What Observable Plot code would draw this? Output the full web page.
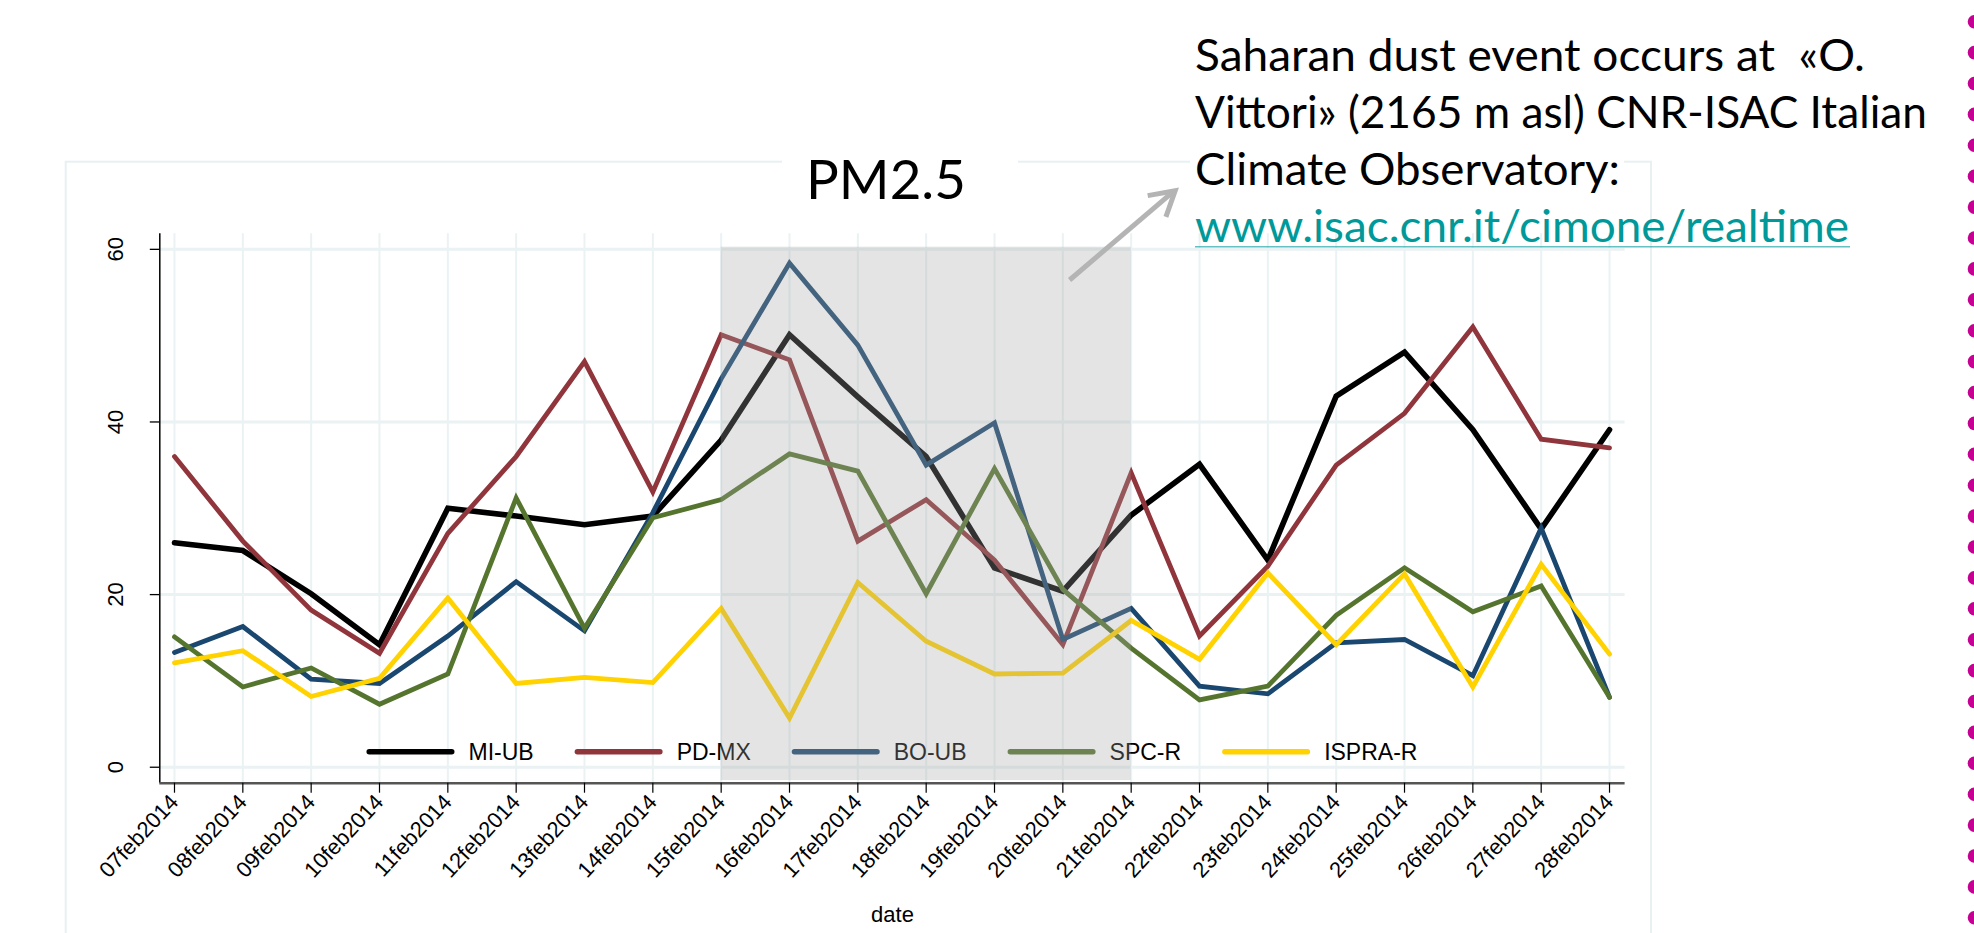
<!DOCTYPE html>
<html>
<head>
<meta charset="utf-8">
<script src="https://cdn.jsdelivr.net/npm/d3@7"></script>
<script src="https://cdn.jsdelivr.net/npm/@observablehq/plot@0.6"></script>
<style>
html, body { margin: 0; padding: 0; background: #fff; }
#wrap { position: relative; width: 1974px; height: 933px; overflow: hidden; background: #fff; }
#wrap > svg { position: absolute; left: 0; top: 0; }
</style>
</head>
<body>
<div id="wrap"></div>
<script>
// ---------------- data ----------------
const dates = ["07feb2014","08feb2014","09feb2014","10feb2014","11feb2014","12feb2014","13feb2014",
  "14feb2014","15feb2014","16feb2014","17feb2014","18feb2014","19feb2014","20feb2014","21feb2014",
  "22feb2014","23feb2014","24feb2014","25feb2014","26feb2014","27feb2014","28feb2014"];
const seriesNames = ["MI-UB", "PD-MX", "BO-UB", "SPC-R", "ISPRA-R"];
const seriesColors = ["#000000", "#90353b", "#1a476f", "#55752f", "#ffd200"];
const miUB   = [26.0, 25.1, 20.1, 14.2, 30.0, 29.1, 28.1, 29.1, 37.9, 50.1, 42.9, 36.0, 23.1, 20.4, 29.2, 35.1, 24.0, 43.0, 48.1, 39.1, 27.6, 39.1];
const pdMX   = [36.0, 26.2, 18.2, 13.2, 27.1, 36.0, 47.0, 31.9, 50.1, 47.2, 26.2, 31.0, 24.0, 14.2, 34.1, 15.2, 23.3, 35.0, 41.0, 51.0, 38.0, 37.0];
const boUB   = [13.3, 16.3, 10.2, 9.7, 15.2, 21.5, 15.8, 29.5, 45.0, 58.4, 48.9, 35.0, 39.9, 14.8, 18.4, 9.4, 8.5, 14.4, 14.8, 10.6, 27.7, 8.1];
const spcR   = [15.1, 9.3, 11.5, 7.3, 10.8, 31.2, 16.1, 28.9, 31.0, 36.3, 34.3, 20.1, 34.6, 20.6, 13.8, 7.8, 9.4, 17.6, 23.1, 18.0, 21.0, 8.1];
const ispraR = [12.1, 13.5, 8.2, 10.3, 19.6, 9.7, 10.4, 9.8, 18.4, 5.7, 21.4, 14.6, 10.8, 10.9, 17.0, 12.5, 22.5, 14.2, 22.4, 9.3, 23.5, 13.1];
const seriesValues = [miUB, pdMX, boUB, spcR, ispraR];
const yTicks = [0, 20, 40, 60];
const shadeFrom = "15feb2014", shadeTo = "21feb2014";
const shadeRange = [-1.54, 60.25];
const titleText = "PM2.5";
const xLabel = "date";
const noteLines = ["Saharan dust event occurs at  «O.", "Vittori» (2165 m asl) CNR-ISAC Italian", "Climate Observatory:"];
const noteLink = "www.isac.cnr.it/cimone/realtime";

// ---------------- layout ----------------
const W = 1974, H = 933;
const mL = 159.3, mR = 349.4, mT = 233.3, mB = 150.3;
const xDomain = [-0.215, 21.228];
const yDomain = [-1.85, 61.8];
const FONT = "'Liberation Sans', Arial, sans-serif";
const NOTEFONT = "Lato, 'Open Sans', sans-serif";

const rows = seriesNames.flatMap((s, k) => seriesValues[k].map((v, j) => ({series: s, x: j, date: dates[j], value: v})));
const shade = [{x1: dates.indexOf(shadeFrom), x2: dates.indexOf(shadeTo), y1: shadeRange[0], y2: shadeRange[1]}];

function legendMark(index, scales, values, dims) {
  const ctx = document.createElement("canvas").getContext("2d");
  ctx.font = "23px " + FONT;
  const keyLen = 88, keyGap = 14, colGap = 41;
  const widths = seriesNames.map(s => ctx.measureText(s).width);
  const total = d3.sum(widths) + seriesNames.length * (keyLen + keyGap) + (seriesNames.length - 1) * colGap;
  const cx = (dims.marginLeft + dims.width - dims.marginRight) / 2;
  const cy = dims.height - dims.marginBottom - 31;
  const g = d3.create("svg:g").attr("font-family", FONT).attr("font-size", 23).attr("text-anchor", "start");
  let x = cx - total / 2;
  seriesNames.forEach((s, i) => {
    g.append("line").attr("x1", x + 2.7).attr("x2", x + keyLen - 2.7).attr("y1", cy).attr("y2", cy)
      .attr("stroke", scales.color(s)).attr("stroke-width", 5.4).attr("stroke-linecap", "round");
    g.append("text").attr("x", x + keyLen + keyGap).attr("y", cy + 8.3).attr("fill", "#000")
      .attr("text-anchor", "start").style("text-anchor", "start").text(s);
    x += keyLen + keyGap + widths[i] + colGap;
  });
  return g.node();
}

const wrap = document.getElementById("wrap");

// background layer: panel border + white boxes
const bg = d3.create("svg").attr("width", W).attr("height", H);
bg.append("rect").attr("x", 65.7).attr("y", 161.7).attr("width", 1651 - 65.7).attr("height", 900)
  .attr("fill", "none").attr("stroke", "#e8f0f2").attr("stroke-width", 2);
bg.append("rect").attr("x", 782).attr("y", 150).attr("width", 236).attr("height", 30).attr("fill", "#fff");
bg.append("rect").attr("x", 1190).attr("y", 150).attr("width", 434).attr("height", 94).attr("fill", "#fff");
wrap.appendChild(bg.node());

const chart = Plot.plot({
  width: W, height: H,
  marginLeft: mL, marginRight: mR, marginTop: mT, marginBottom: mB,
  style: {background: "transparent", fontFamily: FONT, fontSize: "22px", color: "#000", overflow: "visible"},
  x: {type: "linear", domain: xDomain},
  y: {domain: yDomain},
  color: {domain: seriesNames, range: seriesColors},
  marks: [
    Plot.gridY(yTicks, {stroke: "#eaf2f3", strokeOpacity: 1, strokeWidth: 3}),
    Plot.gridX(d3.range(dates.length), {stroke: "#eaf2f3", strokeOpacity: 1, strokeWidth: 2}),
    Plot.ruleX([xDomain[0]], {stroke: "#000", strokeWidth: 1.5}),
    Plot.ruleY([yDomain[0]], {stroke: "#555", strokeWidth: 2.5}),
    Plot.axisY({ticks: yTicks, tickSize: 9.5, tickFormat: () => "", stroke: "#000", strokeWidth: 1.3}),
    Plot.text(yTicks, {y: d => d, text: d => String(d), frameAnchor: "left", dx: -37, rotate: -90,
      textAnchor: "middle", lineAnchor: "bottom", fontSize: 22, fill: "#000"}),
    Plot.axisX({ticks: d3.range(dates.length), tickFormat: i => dates[i], tickRotate: -47, tickSize: 10,
      tickPadding: 5, label: null, fontSize: 22, stroke: "#000", strokeWidth: 1.2}),
    Plot.text([xLabel], {frameAnchor: "bottom", dy: 132, lineAnchor: "middle", fontSize: 22, fill: "#000"}),
    ...seriesNames.map(s => Plot.line(rows.filter(r => r.series === s), {
      x: "x", y: "value", stroke: "series", strokeWidth: s === "MI-UB" ? 5.6 : 4.8,
      strokeLinejoin: "miter", strokeMiterlimit: 6, strokeLinecap: "round"})),
    legendMark,
    Plot.rect(shade, {x1: "x1", x2: "x2", y1: "y1", y2: "y2", fill: "#a7a7a7", fillOpacity: 0.3})
  ]
});
wrap.appendChild(chart);

// foreground: title, annotation, arrow, decoration
const fg = d3.create("svg").attr("width", W).attr("height", H).style("pointer-events", "none");
fg.append("text").attr("x", 806).attr("y", 199.3).attr("font-family", NOTEFONT).attr("font-size", 54.8)
  .attr("textLength", 160).attr("lengthAdjust", "spacingAndGlyphs").attr("fill", "#000").text(titleText);
const noteBase = [70.7, 127.7, 185];
const noteWidths = [670, 732, 425];
noteLines.forEach((t, i) => {
  fg.append("text").attr("x", 1195).attr("y", noteBase[i]).attr("font-family", NOTEFONT).attr("font-size", 43.8)
    .attr("textLength", noteWidths[i]).attr("lengthAdjust", "spacingAndGlyphs")
    .style("white-space", "pre").attr("fill", "#000").text(t);
});
fg.append("text").attr("x", 1195).attr("y", 241.7).attr("font-family", NOTEFONT).attr("font-size", 43.8)
  .attr("textLength", 654).attr("lengthAdjust", "spacingAndGlyphs").attr("fill", "#009999").text(noteLink);
fg.append("line").attr("x1", 1195).attr("x2", 1850).attr("y1", 246.7).attr("y2", 246.7)
  .attr("stroke", "#009999").attr("stroke-opacity", 0.6).attr("stroke-width", 1.6);
fg.append("line").attr("x1", 1069.6).attr("y1", 280).attr("x2", 1173).attr("y2", 191.8)
  .attr("stroke", "#b4b4b4").attr("stroke-width", 5);
fg.append("polyline").attr("points", "1147.7,195.6 1175.2,190.7 1165.9,216.9")
  .attr("fill", "none").attr("stroke", "#b4b4b4").attr("stroke-width", 5).attr("stroke-linejoin", "miter");
for (let y = 21.7; y < H + 10; y += 30.9) {
  fg.append("circle").attr("cx", 1974.5).attr("cy", y).attr("r", 6.8).attr("fill", "#c70094");
}
wrap.appendChild(fg.node());
</script>
</body>
</html>
